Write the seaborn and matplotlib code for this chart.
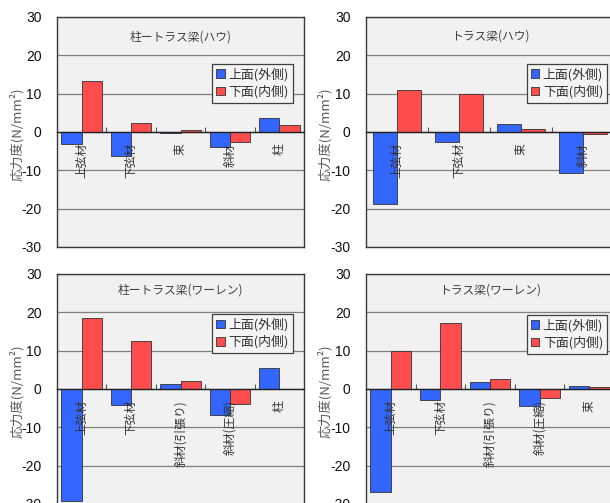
import matplotlib
matplotlib.use("Agg")
import matplotlib.pyplot as plt
import seaborn as sns
import pandas as pd

# 部材ごとの応力度 (N/mm²)
titles = ["柱ートラス梁(ハウ)", "トラス梁(ハウ)",
          "柱ートラス梁(ワーレン)", "トラス梁(ワーレン)"]

members_howe_col = ["上弦材", "下弦材", "束", "斜材", "柱"]
members_howe = ["上弦材", "下弦材", "束", "斜材"]
members_warren_col = ["上弦材", "下弦材", "斜材(引張り)", "斜材(圧縮)", "柱"]
members_warren = ["上弦材", "下弦材", "斜材(引張り)", "斜材(圧縮)", "束"]

upper_howe_col = [-3.2, -6.3, -0.2, -4.0, 3.6]
lower_howe_col = [13.2, 2.4, 0.4, -2.7, 1.7]
upper_howe = [-18.8, -2.7, 2.0, -10.6]
lower_howe = [10.9, 9.8, 0.9, -0.5]
upper_warren_col = [-29.1, -4.2, 1.2, -6.7, 5.6]
lower_warren_col = [18.6, 12.5, 2.2, -3.9, 0.1]
upper_warren = [-26.8, -2.9, 1.8, -4.5, 0.9]
lower_warren = [10.0, 17.1, 2.7, -2.4, 0.5]

series_names = ["上面(外側)", "下面(内側)"]
y_ticks = [30, 20, 10, 0, -10, -20, -30]
y_label = "応力度(N/mm²)"

sns.set_style("white")
plt.rcParams["font.family"] = ["Noto Sans CJK JP", "DejaVu Sans"]

W, H = 610, 503
fig = plt.figure(figsize=(W / 100, H / 100), dpi=100)

# panel boxes in pixels: left, top, right, bottom
boxes = [(57, 17, 304, 247), (366, 17, 614, 247),
         (57, 274, 304, 504), (366, 274, 614, 504)]
panels = [
    (members_howe_col, upper_howe_col, lower_howe_col, 0.82, 0.955, 0.796, 0.914),
    (members_howe, upper_howe, lower_howe, 0.78, 0.972, 0.796, 0.918),
    (members_warren_col, upper_warren_col, lower_warren_col, 0.82, 0.955, 0.826, 0.93),
    (members_warren, upper_warren, lower_warren, 0.82, 0.972, 0.822, 0.93),
]
palette = {series_names[0]: "#3366FF", series_names[1]: "#FF4D4D"}
frame_col = "#3a3a3a"

for (l, t, r, b), title, (cats, up, lo, bw, lx, ly, ty) in zip(boxes, titles, panels):
    ax = fig.add_axes([l / W, 1 - b / H, (r - l) / W, (b - t) / H])
    df = pd.DataFrame({
        "部材": cats * 2,
        "応力度": up + lo,
        "面": [series_names[0]] * len(cats) + [series_names[1]] * len(cats),
    })
    sns.barplot(data=df, x="部材", y="応力度", hue="面", order=cats,
                hue_order=series_names, palette=palette, width=bw,
                edgecolor="#333333", linewidth=0.6, saturation=1, ax=ax)
    ax.set_facecolor("#F1F1F1")
    ax.set_ylim(-30, 30)
    ax.set_xlim(-0.5, len(cats) - 0.5)
    ax.set_axisbelow(True)
    ax.set_yticks(y_ticks)
    ax.set_yticklabels([str(v) for v in y_ticks], family="Liberation Sans",
                       fontsize=10, color="#111111")
    ax.tick_params(axis="y", length=0, pad=11)
    ax.yaxis.grid(True, color="#808080", linewidth=0.9)
    ax.xaxis.grid(False)
    ax.set_xticks([])
    ax.set_xlabel("")
    ax.set_ylabel(y_label, fontsize=9.5, color="#595959", labelpad=0)
    ax.yaxis.set_label_coords(-0.135, 0.49)
    for s in ax.spines.values():
        s.set_visible(True)
        s.set_color(frame_col)
        s.set_linewidth(1.0)

    # category axis crossing at zero, labels drawn over the bars
    sec = ax.secondary_xaxis(0.5)
    sec.set_zorder(4)
    sec.xaxis.set_ticks_position("bottom")
    sec.set_xticks(range(len(cats)), labels=cats)
    sec.set_xticks([i + 0.5 for i in range(len(cats) - 1)], minor=True)
    sec.tick_params(which="major", length=0, pad=8, labelrotation=90,
                    labelsize=8.5, labelcolor="#333333")
    sec.tick_params(which="minor", direction="in", length=3.5, width=0.8,
                    color="#555555")
    for sp in sec.spines.values():
        sp.set_color("#222222")
        sp.set_linewidth(1.0)

    ax.text(0.5, ty, title, transform=ax.transAxes, ha="center", va="center",
            fontsize=8.5, color="#404040")

    handles, labels = ax.get_legend_handles_labels()
    if ax.get_legend() is not None:
        ax.get_legend().remove()
    leg = ax.legend(handles, labels, loc="upper right", bbox_to_anchor=(lx, ly),
                    borderaxespad=0, frameon=True, fancybox=False,
                    edgecolor="#404040", facecolor="#F4F4F4", framealpha=1,
                    fontsize=9.3, handlelength=0.65, handleheight=0.65,
                    handletextpad=0.3, borderpad=0.3, labelspacing=0.3)
    leg.set_zorder(6)
    leg.get_frame().set_linewidth(0.9)
    for txt in leg.get_texts():
        txt.set_color("#333333")

fig.savefig("out.png", dpi=100)
